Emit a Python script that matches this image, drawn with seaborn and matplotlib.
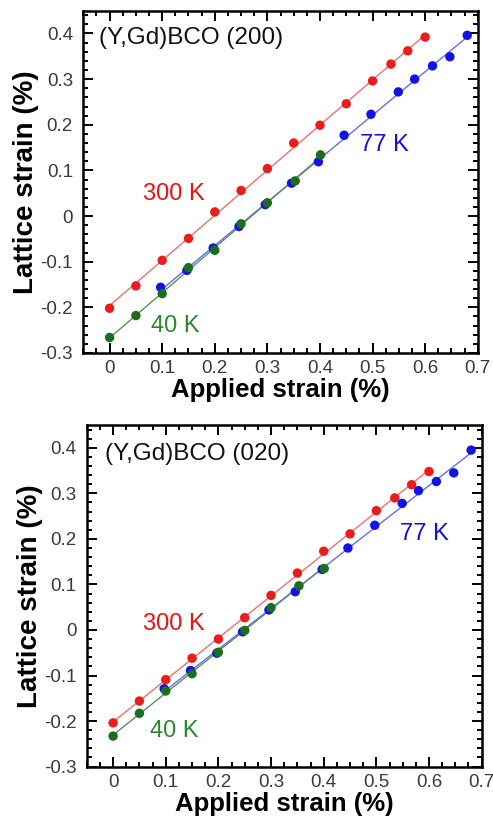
import matplotlib
matplotlib.use("Agg")
import matplotlib.pyplot as plt
from matplotlib.ticker import MultipleLocator, FuncFormatter
import numpy as np
import pandas as pd
import seaborn as sns

# Applied strain (%) at which each temperature series was measured
applied_300K = [0, 0.05, 0.1, 0.15, 0.2, 0.25, 0.3, 0.35, 0.4, 0.45, 0.5, 0.535, 0.567, 0.6]
applied_77K = [0.097, 0.147, 0.197, 0.246, 0.296, 0.346, 0.397, 0.446, 0.497, 0.549, 0.58, 0.614, 0.647, 0.68]
applied_40K = [0, 0.05, 0.1, 0.15, 0.2, 0.25, 0.3, 0.353, 0.401]

# Lattice strain (%) of the (200) reflection
lattice_200_300K = [-0.202, -0.153, -0.097, -0.049, 0.009, 0.056, 0.104, 0.160, 0.199, 0.246, 0.296, 0.333, 0.362, 0.392]
lattice_200_77K = [-0.156, -0.119, -0.070, -0.023, 0.025, 0.072, 0.119, 0.177, 0.223, 0.272, 0.300, 0.329, 0.349, 0.396]
lattice_200_40K = [-0.266, -0.218, -0.170, -0.113, -0.075, -0.017, 0.029, 0.077, 0.134]

# Lattice strain (%) of the (020) reflection
lattice_020_300K = [-0.204, -0.156, -0.109, -0.062, -0.020, 0.027, 0.076, 0.125, 0.173, 0.211, 0.262, 0.290, 0.319, 0.348]
lattice_020_77K = [-0.129, -0.089, -0.051, -0.004, 0.044, 0.084, 0.133, 0.180, 0.230, 0.278, 0.306, 0.326, 0.345, 0.395]
lattice_020_40K = [-0.233, -0.183, -0.134, -0.096, -0.049, -0.001, 0.049, 0.097, 0.135]

temperatures = ["300 K", "77 K", "40 K"]
point_colors = {"300 K": "#ea1c1c", "77 K": "#1414e0", "40 K": "#1c6e1c"}
line_colors = {"300 K": "#f07070", "77 K": "#6a6af0", "40 K": "#5a925a"}
text_colors = {"300 K": "#ee1111", "77 K": "#1010dd", "40 K": "#2a8a2a"}

panels = [
    {
        "title": "(Y,Gd)BCO (200)",
        "lattice": {"300 K": lattice_200_300K, "77 K": lattice_200_77K, "40 K": lattice_200_40K},
        "title_xy": (-0.021, 0.377),
        "label_xy": {"300 K": (0.064, 0.036), "77 K": (0.476, 0.143), "40 K": (0.078, -0.253)},
        "rect": [0.169, 0.569, 0.800, 0.418],
    },
    {
        "title": "(Y,Gd)BCO (020)",
        "lattice": {"300 K": lattice_020_300K, "77 K": lattice_020_77K, "40 K": lattice_020_40K},
        "title_xy": (-0.015, 0.373),
        "label_xy": {"300 K": (0.057, 0.0), "77 K": (0.544, 0.197), "40 K": (0.071, -0.235)},
        "rect": [0.176, 0.064, 0.801, 0.417],
    },
]
applied = {"300 K": applied_300K, "77 K": applied_77K, "40 K": applied_40K}

sns.set_theme(style="ticks")
plt.rcParams["font.family"] = ["Liberation Sans", "DejaVu Sans"]
plt.rcParams["axes.unicode_minus"] = False


def tick_fmt(v, _pos):
    s = f"{round(v, 3):g}"
    return "0" if s == "-0" else s


fig = plt.figure(figsize=(4.93, 8.19), dpi=100)

for panel in panels:
    ax = fig.add_axes(panel["rect"])
    frames = []
    for t in temperatures:
        frames.append(pd.DataFrame({
            "applied": applied[t],
            "lattice": panel["lattice"][t],
            "temperature": t,
        }))
    df = pd.concat(frames, ignore_index=True)

    for t in temperatures:
        sub = df[df["temperature"] == t]
        sns.regplot(
            data=sub, x="applied", y="lattice", ax=ax, ci=None, truncate=True,
            scatter_kws={"s": 46, "color": point_colors[t], "edgecolor": "none",
                         "alpha": 1, "zorder": 3},
            line_kws={"color": line_colors[t], "lw": 1.0, "zorder": 2},
        )
        lx, ly = panel["label_xy"][t]
        ax.text(lx, ly, t, color=text_colors[t], fontsize=17,
                ha="left", va="baseline")

    tx, ty = panel["title_xy"]
    ax.text(tx, ty, panel["title"], color="#111111", fontsize=17.5,
            ha="left", va="baseline")

    ax.set_xlim(-0.05, 0.7)
    ax.set_ylim(-0.3, 0.45)
    ax.xaxis.set_major_locator(MultipleLocator(0.1))
    ax.xaxis.set_minor_locator(MultipleLocator(0.025))
    ax.yaxis.set_major_locator(MultipleLocator(0.1))
    ax.yaxis.set_minor_locator(MultipleLocator(0.02))
    ax.xaxis.set_major_formatter(FuncFormatter(tick_fmt))
    ax.yaxis.set_major_formatter(FuncFormatter(tick_fmt))

    ax.tick_params(which="both", direction="in", top=True, right=True,
                   color="black", width=1.4)
    ax.tick_params(which="major", length=7)
    ax.tick_params(which="minor", length=3.5)
    ax.tick_params(axis="x", which="major", labelsize=13.5, labelcolor="#3a3a3a", pad=5)
    ax.tick_params(axis="y", which="major", labelsize=13.5, labelcolor="#3a3a3a", pad=7.5)
    for sp in ax.spines.values():
        sp.set_visible(True)
        sp.set_linewidth(1.8)
        sp.set_color("black")

    ax.set_xlabel("Applied strain (%)", fontsize=18.5, fontweight="bold",
                  color="black", labelpad=1)
    ax.set_ylabel("Lattice strain (%)", fontsize=20, fontweight="bold",
                  color="black")
    ax.yaxis.set_label_coords(-0.112, 0.5)

fig.savefig("out.png", dpi=100)
